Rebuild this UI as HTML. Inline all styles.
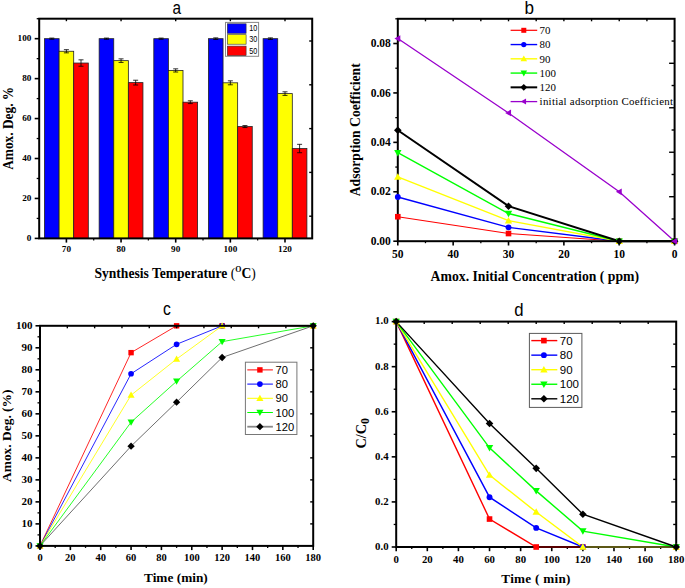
<!DOCTYPE html>
<html><head><meta charset="utf-8"><title>Figure</title>
<style>html,body{margin:0;padding:0;background:#fff;}svg{display:block;}</style></head>
<body><svg width="685" height="588" viewBox="0 0 685 588">
<rect width="685" height="588" fill="#fff"/>
<rect x="44.5" y="38.67" width="14.6" height="199.73" fill="#0000ff" stroke="#222" stroke-width="0.8"/>
<rect x="59.1" y="51.26" width="14.6" height="187.14" fill="#ffff00" stroke="#222" stroke-width="0.8"/>
<rect x="73.7" y="63.04" width="14.6" height="175.36" fill="#ff0000" stroke="#222" stroke-width="0.8"/>
<line x1="51.8" y1="38.07" x2="51.8" y2="39.27" stroke="#000" stroke-width="0.8"/>
<line x1="49.3" y1="38.07" x2="54.3" y2="38.07" stroke="#000" stroke-width="0.8"/>
<line x1="49.3" y1="39.27" x2="54.3" y2="39.27" stroke="#000" stroke-width="0.8"/>
<line x1="66.4" y1="49.66" x2="66.4" y2="52.85" stroke="#000" stroke-width="0.8"/>
<line x1="63.9" y1="49.66" x2="68.9" y2="49.66" stroke="#000" stroke-width="0.8"/>
<line x1="63.9" y1="52.85" x2="68.9" y2="52.85" stroke="#000" stroke-width="0.8"/>
<line x1="81" y1="59.84" x2="81" y2="66.24" stroke="#000" stroke-width="0.8"/>
<line x1="78.5" y1="59.84" x2="83.5" y2="59.84" stroke="#000" stroke-width="0.8"/>
<line x1="78.5" y1="66.24" x2="83.5" y2="66.24" stroke="#000" stroke-width="0.8"/>
<rect x="99.15" y="38.67" width="14.6" height="199.73" fill="#0000ff" stroke="#222" stroke-width="0.8"/>
<rect x="113.75" y="60.64" width="14.6" height="177.76" fill="#ffff00" stroke="#222" stroke-width="0.8"/>
<rect x="128.35" y="82.61" width="14.6" height="155.79" fill="#ff0000" stroke="#222" stroke-width="0.8"/>
<line x1="106.45" y1="38.07" x2="106.45" y2="39.27" stroke="#000" stroke-width="0.8"/>
<line x1="103.95" y1="38.07" x2="108.95" y2="38.07" stroke="#000" stroke-width="0.8"/>
<line x1="103.95" y1="39.27" x2="108.95" y2="39.27" stroke="#000" stroke-width="0.8"/>
<line x1="121.05" y1="58.85" x2="121.05" y2="62.44" stroke="#000" stroke-width="0.8"/>
<line x1="118.55" y1="58.85" x2="123.55" y2="58.85" stroke="#000" stroke-width="0.8"/>
<line x1="118.55" y1="62.44" x2="123.55" y2="62.44" stroke="#000" stroke-width="0.8"/>
<line x1="135.65" y1="80.22" x2="135.65" y2="85.01" stroke="#000" stroke-width="0.8"/>
<line x1="133.15" y1="80.22" x2="138.15" y2="80.22" stroke="#000" stroke-width="0.8"/>
<line x1="133.15" y1="85.01" x2="138.15" y2="85.01" stroke="#000" stroke-width="0.8"/>
<rect x="153.8" y="38.67" width="14.6" height="199.73" fill="#0000ff" stroke="#222" stroke-width="0.8"/>
<rect x="168.4" y="70.43" width="14.6" height="167.97" fill="#ffff00" stroke="#222" stroke-width="0.8"/>
<rect x="183" y="102.19" width="14.6" height="136.21" fill="#ff0000" stroke="#222" stroke-width="0.8"/>
<line x1="161.1" y1="38.07" x2="161.1" y2="39.27" stroke="#000" stroke-width="0.8"/>
<line x1="158.6" y1="38.07" x2="163.6" y2="38.07" stroke="#000" stroke-width="0.8"/>
<line x1="158.6" y1="39.27" x2="163.6" y2="39.27" stroke="#000" stroke-width="0.8"/>
<line x1="175.7" y1="68.83" x2="175.7" y2="72.03" stroke="#000" stroke-width="0.8"/>
<line x1="173.2" y1="68.83" x2="178.2" y2="68.83" stroke="#000" stroke-width="0.8"/>
<line x1="173.2" y1="72.03" x2="178.2" y2="72.03" stroke="#000" stroke-width="0.8"/>
<line x1="190.3" y1="100.79" x2="190.3" y2="103.58" stroke="#000" stroke-width="0.8"/>
<line x1="187.8" y1="100.79" x2="192.8" y2="100.79" stroke="#000" stroke-width="0.8"/>
<line x1="187.8" y1="103.58" x2="192.8" y2="103.58" stroke="#000" stroke-width="0.8"/>
<rect x="208.45" y="38.67" width="14.6" height="199.73" fill="#0000ff" stroke="#222" stroke-width="0.8"/>
<rect x="223.05" y="82.81" width="14.6" height="155.59" fill="#ffff00" stroke="#222" stroke-width="0.8"/>
<rect x="237.65" y="126.55" width="14.6" height="111.85" fill="#ff0000" stroke="#222" stroke-width="0.8"/>
<line x1="215.75" y1="37.87" x2="215.75" y2="39.47" stroke="#000" stroke-width="0.8"/>
<line x1="213.25" y1="37.87" x2="218.25" y2="37.87" stroke="#000" stroke-width="0.8"/>
<line x1="213.25" y1="39.47" x2="218.25" y2="39.47" stroke="#000" stroke-width="0.8"/>
<line x1="230.35" y1="80.82" x2="230.35" y2="84.81" stroke="#000" stroke-width="0.8"/>
<line x1="227.85" y1="80.82" x2="232.85" y2="80.82" stroke="#000" stroke-width="0.8"/>
<line x1="227.85" y1="84.81" x2="232.85" y2="84.81" stroke="#000" stroke-width="0.8"/>
<line x1="244.95" y1="125.55" x2="244.95" y2="127.55" stroke="#000" stroke-width="0.8"/>
<line x1="242.45" y1="125.55" x2="247.45" y2="125.55" stroke="#000" stroke-width="0.8"/>
<line x1="242.45" y1="127.55" x2="247.45" y2="127.55" stroke="#000" stroke-width="0.8"/>
<rect x="263.1" y="38.67" width="14.6" height="199.73" fill="#0000ff" stroke="#222" stroke-width="0.8"/>
<rect x="277.7" y="93.6" width="14.6" height="144.8" fill="#ffff00" stroke="#222" stroke-width="0.8"/>
<rect x="292.3" y="148.52" width="14.6" height="89.88" fill="#ff0000" stroke="#222" stroke-width="0.8"/>
<line x1="270.4" y1="37.87" x2="270.4" y2="39.47" stroke="#000" stroke-width="0.8"/>
<line x1="267.9" y1="37.87" x2="272.9" y2="37.87" stroke="#000" stroke-width="0.8"/>
<line x1="267.9" y1="39.47" x2="272.9" y2="39.47" stroke="#000" stroke-width="0.8"/>
<line x1="285" y1="91.8" x2="285" y2="95.4" stroke="#000" stroke-width="0.8"/>
<line x1="282.5" y1="91.8" x2="287.5" y2="91.8" stroke="#000" stroke-width="0.8"/>
<line x1="282.5" y1="95.4" x2="287.5" y2="95.4" stroke="#000" stroke-width="0.8"/>
<line x1="299.6" y1="144.33" x2="299.6" y2="152.72" stroke="#000" stroke-width="0.8"/>
<line x1="297.1" y1="144.33" x2="302.1" y2="144.33" stroke="#000" stroke-width="0.8"/>
<line x1="297.1" y1="152.72" x2="302.1" y2="152.72" stroke="#000" stroke-width="0.8"/>
<line x1="34.7" y1="238.4" x2="39.2" y2="238.4" stroke="#000" stroke-width="1.6"/>
<text x="31.4" y="241.1" font-size="9.2" text-anchor="end" font-weight="bold" style="font-family:&quot;Liberation Serif&quot;,serif">0</text>
<line x1="34.7" y1="198.45" x2="39.2" y2="198.45" stroke="#000" stroke-width="1.6"/>
<text x="31.4" y="201.15" font-size="9.2" text-anchor="end" font-weight="bold" style="font-family:&quot;Liberation Serif&quot;,serif">20</text>
<line x1="34.7" y1="158.51" x2="39.2" y2="158.51" stroke="#000" stroke-width="1.6"/>
<text x="31.4" y="161.21" font-size="9.2" text-anchor="end" font-weight="bold" style="font-family:&quot;Liberation Serif&quot;,serif">40</text>
<line x1="34.7" y1="118.56" x2="39.2" y2="118.56" stroke="#000" stroke-width="1.6"/>
<text x="31.4" y="121.26" font-size="9.2" text-anchor="end" font-weight="bold" style="font-family:&quot;Liberation Serif&quot;,serif">60</text>
<line x1="34.7" y1="78.62" x2="39.2" y2="78.62" stroke="#000" stroke-width="1.6"/>
<text x="31.4" y="81.32" font-size="9.2" text-anchor="end" font-weight="bold" style="font-family:&quot;Liberation Serif&quot;,serif">80</text>
<line x1="34.7" y1="38.67" x2="39.2" y2="38.67" stroke="#000" stroke-width="1.6"/>
<text x="31.4" y="41.37" font-size="9.2" text-anchor="end" font-weight="bold" style="font-family:&quot;Liberation Serif&quot;,serif">100</text>
<line x1="36.7" y1="218.43" x2="39.2" y2="218.43" stroke="#000" stroke-width="1.3"/>
<line x1="36.7" y1="178.48" x2="39.2" y2="178.48" stroke="#000" stroke-width="1.3"/>
<line x1="36.7" y1="138.54" x2="39.2" y2="138.54" stroke="#000" stroke-width="1.3"/>
<line x1="36.7" y1="98.59" x2="39.2" y2="98.59" stroke="#000" stroke-width="1.3"/>
<line x1="36.7" y1="58.65" x2="39.2" y2="58.65" stroke="#000" stroke-width="1.3"/>
<line x1="36.7" y1="18.7" x2="39.2" y2="18.7" stroke="#000" stroke-width="1.3"/>
<line x1="66.4" y1="238.4" x2="66.4" y2="242.6" stroke="#000" stroke-width="1.6"/>
<line x1="66.4" y1="18.7" x2="66.4" y2="21.2" stroke="#000" stroke-width="1.4"/>
<text x="66.4" y="252.2" font-size="9.2" text-anchor="middle" font-weight="bold" style="font-family:&quot;Liberation Serif&quot;,serif">70</text>
<line x1="121.05" y1="238.4" x2="121.05" y2="242.6" stroke="#000" stroke-width="1.6"/>
<line x1="121.05" y1="18.7" x2="121.05" y2="21.2" stroke="#000" stroke-width="1.4"/>
<text x="121.05" y="252.2" font-size="9.2" text-anchor="middle" font-weight="bold" style="font-family:&quot;Liberation Serif&quot;,serif">80</text>
<line x1="175.7" y1="238.4" x2="175.7" y2="242.6" stroke="#000" stroke-width="1.6"/>
<line x1="175.7" y1="18.7" x2="175.7" y2="21.2" stroke="#000" stroke-width="1.4"/>
<text x="175.7" y="252.2" font-size="9.2" text-anchor="middle" font-weight="bold" style="font-family:&quot;Liberation Serif&quot;,serif">90</text>
<line x1="230.35" y1="238.4" x2="230.35" y2="242.6" stroke="#000" stroke-width="1.6"/>
<line x1="230.35" y1="18.7" x2="230.35" y2="21.2" stroke="#000" stroke-width="1.4"/>
<text x="230.35" y="252.2" font-size="9.2" text-anchor="middle" font-weight="bold" style="font-family:&quot;Liberation Serif&quot;,serif">100</text>
<line x1="285" y1="238.4" x2="285" y2="242.6" stroke="#000" stroke-width="1.6"/>
<line x1="285" y1="18.7" x2="285" y2="21.2" stroke="#000" stroke-width="1.4"/>
<text x="285" y="252.2" font-size="9.2" text-anchor="middle" font-weight="bold" style="font-family:&quot;Liberation Serif&quot;,serif">120</text>
<line x1="93.7" y1="238.4" x2="93.7" y2="240.4" stroke="#000" stroke-width="1.2"/>
<line x1="148.35" y1="238.4" x2="148.35" y2="240.4" stroke="#000" stroke-width="1.2"/>
<line x1="203" y1="238.4" x2="203" y2="240.4" stroke="#000" stroke-width="1.2"/>
<line x1="257.65" y1="238.4" x2="257.65" y2="240.4" stroke="#000" stroke-width="1.2"/>
<line x1="309.2" y1="41" x2="312.2" y2="41" stroke="#000" stroke-width="1.4"/>
<line x1="309.2" y1="84.8" x2="312.2" y2="84.8" stroke="#000" stroke-width="1.4"/>
<line x1="309.2" y1="128.6" x2="312.2" y2="128.6" stroke="#000" stroke-width="1.4"/>
<line x1="309.2" y1="172.4" x2="312.2" y2="172.4" stroke="#000" stroke-width="1.4"/>
<line x1="309.2" y1="216.2" x2="312.2" y2="216.2" stroke="#000" stroke-width="1.4"/>
<rect x="39.2" y="18.7" width="273" height="219.7" fill="none" stroke="#000" stroke-width="2"/>
<rect x="225.5" y="22.4" width="33.1" height="33.9" fill="#fff" stroke="#888" stroke-width="1"/>
<rect x="227.3" y="23.8" width="18.8" height="9.5" fill="#0000ff" stroke="#333" stroke-width="0.6"/>
<text transform="translate(249.3,31.3) scale(0.78,1)" font-size="9.3" style="font-family:&quot;Liberation Sans&quot;,sans-serif">10</text>
<rect x="227.3" y="34.7" width="18.8" height="9.5" fill="#ffff00" stroke="#333" stroke-width="0.6"/>
<text transform="translate(249.3,42.2) scale(0.78,1)" font-size="9.3" style="font-family:&quot;Liberation Sans&quot;,sans-serif">30</text>
<rect x="227.3" y="46.1" width="18.8" height="9.5" fill="#ff0000" stroke="#333" stroke-width="0.6"/>
<text transform="translate(249.3,53.6) scale(0.78,1)" font-size="9.3" style="font-family:&quot;Liberation Sans&quot;,sans-serif">50</text>
<text transform="translate(176.8,13.8) scale(0.84,1)" font-size="18.3" text-anchor="middle" style="font-family:&quot;Liberation Sans&quot;,sans-serif">a</text>
<text transform="translate(12.8,169.8) rotate(-90)" x="0" y="0" font-size="14.5" font-weight="bold" textLength="83" lengthAdjust="spacingAndGlyphs" style="font-family:&quot;Liberation Serif&quot;,serif">Amox. Deg. %</text>
<text x="94.4" y="277.6" font-size="14.3" font-weight="bold" textLength="161.4" lengthAdjust="spacingAndGlyphs" style="font-family:&quot;Liberation Serif&quot;,serif">Synthesis Temperature <tspan font-weight="normal">(</tspan><tspan font-size="8.3" dy="-6">O</tspan><tspan dy="6">C</tspan><tspan font-weight="normal">)</tspan></text>
<line x1="393.3" y1="241.2" x2="397.8" y2="241.2" stroke="#000" stroke-width="1.6"/>
<text x="390.8" y="244.85" font-size="11.5" text-anchor="end" font-weight="bold" style="font-family:&quot;Liberation Serif&quot;,serif">0.00</text>
<line x1="393.3" y1="191.78" x2="397.8" y2="191.78" stroke="#000" stroke-width="1.6"/>
<text x="390.8" y="195.43" font-size="11.5" text-anchor="end" font-weight="bold" style="font-family:&quot;Liberation Serif&quot;,serif">0.02</text>
<line x1="393.3" y1="142.36" x2="397.8" y2="142.36" stroke="#000" stroke-width="1.6"/>
<text x="390.8" y="146.01" font-size="11.5" text-anchor="end" font-weight="bold" style="font-family:&quot;Liberation Serif&quot;,serif">0.04</text>
<line x1="393.3" y1="92.93" x2="397.8" y2="92.93" stroke="#000" stroke-width="1.6"/>
<text x="390.8" y="96.58" font-size="11.5" text-anchor="end" font-weight="bold" style="font-family:&quot;Liberation Serif&quot;,serif">0.06</text>
<line x1="393.3" y1="43.51" x2="397.8" y2="43.51" stroke="#000" stroke-width="1.6"/>
<text x="390.8" y="47.16" font-size="11.5" text-anchor="end" font-weight="bold" style="font-family:&quot;Liberation Serif&quot;,serif">0.08</text>
<line x1="395.3" y1="216.49" x2="397.8" y2="216.49" stroke="#000" stroke-width="1.3"/>
<line x1="395.3" y1="167.07" x2="397.8" y2="167.07" stroke="#000" stroke-width="1.3"/>
<line x1="395.3" y1="117.64" x2="397.8" y2="117.64" stroke="#000" stroke-width="1.3"/>
<line x1="395.3" y1="68.22" x2="397.8" y2="68.22" stroke="#000" stroke-width="1.3"/>
<line x1="395.3" y1="18.8" x2="397.8" y2="18.8" stroke="#000" stroke-width="1.3"/>
<line x1="674.6" y1="241.2" x2="674.6" y2="245.5" stroke="#000" stroke-width="1.6"/>
<text x="674.6" y="257.8" font-size="11.5" text-anchor="middle" font-weight="bold" style="font-family:&quot;Liberation Serif&quot;,serif">0</text>
<line x1="619.24" y1="241.2" x2="619.24" y2="245.5" stroke="#000" stroke-width="1.6"/>
<text x="619.24" y="257.8" font-size="11.5" text-anchor="middle" font-weight="bold" style="font-family:&quot;Liberation Serif&quot;,serif">10</text>
<line x1="563.88" y1="241.2" x2="563.88" y2="245.5" stroke="#000" stroke-width="1.6"/>
<text x="563.88" y="257.8" font-size="11.5" text-anchor="middle" font-weight="bold" style="font-family:&quot;Liberation Serif&quot;,serif">20</text>
<line x1="508.52" y1="241.2" x2="508.52" y2="245.5" stroke="#000" stroke-width="1.6"/>
<text x="508.52" y="257.8" font-size="11.5" text-anchor="middle" font-weight="bold" style="font-family:&quot;Liberation Serif&quot;,serif">30</text>
<line x1="453.16" y1="241.2" x2="453.16" y2="245.5" stroke="#000" stroke-width="1.6"/>
<text x="453.16" y="257.8" font-size="11.5" text-anchor="middle" font-weight="bold" style="font-family:&quot;Liberation Serif&quot;,serif">40</text>
<line x1="397.8" y1="241.2" x2="397.8" y2="245.5" stroke="#000" stroke-width="1.6"/>
<text x="397.8" y="257.8" font-size="11.5" text-anchor="middle" font-weight="bold" style="font-family:&quot;Liberation Serif&quot;,serif">50</text>
<line x1="646.92" y1="241.2" x2="646.92" y2="243.2" stroke="#000" stroke-width="1.3"/>
<line x1="591.56" y1="241.2" x2="591.56" y2="243.2" stroke="#000" stroke-width="1.3"/>
<line x1="536.2" y1="241.2" x2="536.2" y2="243.2" stroke="#000" stroke-width="1.3"/>
<line x1="480.84" y1="241.2" x2="480.84" y2="243.2" stroke="#000" stroke-width="1.3"/>
<line x1="425.48" y1="241.2" x2="425.48" y2="243.2" stroke="#000" stroke-width="1.3"/>
<line x1="646.92" y1="18.8" x2="646.92" y2="21.3" stroke="#000" stroke-width="1.4"/>
<line x1="619.24" y1="18.8" x2="619.24" y2="21.3" stroke="#000" stroke-width="1.4"/>
<line x1="591.56" y1="18.8" x2="591.56" y2="21.3" stroke="#000" stroke-width="1.4"/>
<line x1="563.88" y1="18.8" x2="563.88" y2="21.3" stroke="#000" stroke-width="1.4"/>
<line x1="536.2" y1="18.8" x2="536.2" y2="21.3" stroke="#000" stroke-width="1.4"/>
<line x1="508.52" y1="18.8" x2="508.52" y2="21.3" stroke="#000" stroke-width="1.4"/>
<line x1="480.84" y1="18.8" x2="480.84" y2="21.3" stroke="#000" stroke-width="1.4"/>
<line x1="453.16" y1="18.8" x2="453.16" y2="21.3" stroke="#000" stroke-width="1.4"/>
<line x1="425.48" y1="18.8" x2="425.48" y2="21.3" stroke="#000" stroke-width="1.4"/>
<line x1="671.6" y1="218.96" x2="674.6" y2="218.96" stroke="#000" stroke-width="1.4"/>
<line x1="669.1" y1="196.72" x2="674.6" y2="196.72" stroke="#000" stroke-width="1.4"/>
<line x1="671.6" y1="174.48" x2="674.6" y2="174.48" stroke="#000" stroke-width="1.4"/>
<line x1="669.1" y1="152.24" x2="674.6" y2="152.24" stroke="#000" stroke-width="1.4"/>
<line x1="671.6" y1="130" x2="674.6" y2="130" stroke="#000" stroke-width="1.4"/>
<line x1="669.1" y1="107.76" x2="674.6" y2="107.76" stroke="#000" stroke-width="1.4"/>
<line x1="671.6" y1="85.52" x2="674.6" y2="85.52" stroke="#000" stroke-width="1.4"/>
<line x1="669.1" y1="63.28" x2="674.6" y2="63.28" stroke="#000" stroke-width="1.4"/>
<line x1="671.6" y1="41.04" x2="674.6" y2="41.04" stroke="#000" stroke-width="1.4"/>
<polyline points="397.8,216.74 508.52,233.54 619.24,241.2 674.6,241.2" fill="none" stroke="#ff0000" stroke-width="1.15"/>
<polyline points="397.8,196.97 508.52,227.36 619.24,241.2 674.6,241.2" fill="none" stroke="#0000ff" stroke-width="1.4"/>
<polyline points="397.8,176.95 508.52,220.69 619.24,241.2 674.6,241.2" fill="none" stroke="#ffff00" stroke-width="1.4"/>
<polyline points="397.8,152.73 508.52,213.52 619.24,241.2 674.6,241.2" fill="none" stroke="#00ff00" stroke-width="1.4"/>
<polyline points="397.8,130.25 508.52,206.18 619.24,241.2 674.6,241.2" fill="none" stroke="#000000" stroke-width="2.0"/>
<polyline points="397.8,38.57 508.52,112.95 619.24,191.78 674.6,241.2" fill="none" stroke="#9900cc" stroke-width="1.3"/>
<rect x="397.8" y="18.8" width="276.8" height="222.4" fill="none" stroke="#000" stroke-width="2"/>
<rect x="395" y="213.94" width="5.6" height="5.6" fill="#ff0000"/>
<rect x="505.72" y="230.74" width="5.6" height="5.6" fill="#ff0000"/>
<rect x="616.44" y="238.4" width="5.6" height="5.6" fill="#ff0000"/>
<rect x="671.8" y="238.4" width="5.6" height="5.6" fill="#ff0000"/>
<circle cx="397.8" cy="196.97" r="2.94" fill="#0000ff"/>
<circle cx="508.52" cy="227.36" r="2.94" fill="#0000ff"/>
<circle cx="619.24" cy="241.2" r="2.94" fill="#0000ff"/>
<circle cx="674.6" cy="241.2" r="2.94" fill="#0000ff"/>
<polygon points="397.8,173.26 401.5,179.72 394.1,179.72" fill="#ffff00"/>
<polygon points="508.52,216.99 512.22,223.46 504.82,223.46" fill="#ffff00"/>
<polygon points="619.24,237.5 622.94,243.97 615.54,243.97" fill="#ffff00"/>
<polygon points="674.6,237.5 678.3,243.97 670.9,243.97" fill="#ffff00"/>
<polygon points="397.8,156.43 401.5,149.96 394.1,149.96" fill="#00ff00"/>
<polygon points="508.52,217.22 512.22,210.75 504.82,210.75" fill="#00ff00"/>
<polygon points="619.24,244.9 622.94,238.43 615.54,238.43" fill="#00ff00"/>
<polygon points="674.6,244.9 678.3,238.43 670.9,238.43" fill="#00ff00"/>
<polygon points="397.8,126.44 401.61,130.25 397.8,134.06 393.99,130.25" fill="#000000"/>
<polygon points="508.52,202.38 512.33,206.18 508.52,209.99 504.71,206.18" fill="#000000"/>
<polygon points="619.24,237.39 623.05,241.2 619.24,245.01 615.43,241.2" fill="#000000"/>
<polygon points="674.6,237.39 678.41,241.2 674.6,245.01 670.79,241.2" fill="#000000"/>
<polygon points="394.44,38.57 400.32,35.21 400.32,41.93" fill="#9900cc"/>
<polygon points="505.16,112.95 511.04,109.59 511.04,116.31" fill="#9900cc"/>
<polygon points="615.88,191.78 621.76,188.42 621.76,195.14" fill="#9900cc"/>
<polygon points="671.24,241.2 677.12,237.84 677.12,244.56" fill="#9900cc"/>
<line x1="510.6" y1="30.3" x2="537.2" y2="30.3" stroke="#ff0000" stroke-width="1.2"/>
<rect x="521.3" y="27.8" width="5" height="5" fill="#ff0000"/>
<text x="539.6" y="34.1" font-size="10.9" text-anchor="start" font-weight="normal" style="font-family:&quot;Liberation Serif&quot;,serif">70</text>
<line x1="510.6" y1="44.56" x2="537.2" y2="44.56" stroke="#0000ff" stroke-width="1.4"/>
<circle cx="523.8" cy="44.56" r="2.62" fill="#0000ff"/>
<text x="539.6" y="48.36" font-size="10.9" text-anchor="start" font-weight="normal" style="font-family:&quot;Liberation Serif&quot;,serif">80</text>
<line x1="510.6" y1="58.82" x2="537.2" y2="58.82" stroke="#ffff00" stroke-width="1.4"/>
<polygon points="523.8,55.52 527.1,61.3 520.5,61.3" fill="#ffff00"/>
<text x="539.6" y="62.62" font-size="10.9" text-anchor="start" font-weight="normal" style="font-family:&quot;Liberation Serif&quot;,serif">90</text>
<line x1="510.6" y1="73.08" x2="537.2" y2="73.08" stroke="#00ff00" stroke-width="1.4"/>
<polygon points="523.8,76.38 527.1,70.61 520.5,70.61" fill="#00ff00"/>
<text x="539.6" y="76.88" font-size="10.9" text-anchor="start" font-weight="normal" style="font-family:&quot;Liberation Serif&quot;,serif">100</text>
<line x1="510.6" y1="87.34" x2="537.2" y2="87.34" stroke="#000000" stroke-width="2.0"/>
<polygon points="523.8,83.94 527.2,87.34 523.8,90.74 520.4,87.34" fill="#000000"/>
<text x="539.6" y="91.14" font-size="10.9" text-anchor="start" font-weight="normal" style="font-family:&quot;Liberation Serif&quot;,serif">120</text>
<line x1="510.6" y1="101.6" x2="537.2" y2="101.6" stroke="#9900cc" stroke-width="1.3"/>
<polygon points="520.8,101.6 526.05,98.6 526.05,104.6" fill="#9900cc"/>
<text x="539.6" y="105.4" font-size="10.9" textLength="133.4" lengthAdjust="spacing" style="font-family:&quot;Liberation Serif&quot;,serif">initial adsorption Coefficient</text>
<text transform="translate(529.2,14) scale(0.95,1)" font-size="18" text-anchor="middle" style="font-family:&quot;Liberation Sans&quot;,sans-serif">b</text>
<text transform="translate(360.1,196.3) rotate(-90)" x="0" y="0" font-size="14.6" font-weight="bold" textLength="133" lengthAdjust="spacingAndGlyphs" style="font-family:&quot;Liberation Serif&quot;,serif">Adsorption Coefficient</text>
<text x="430.6" y="280.6" font-size="14.3" font-weight="bold" textLength="208.5" lengthAdjust="spacingAndGlyphs" style="font-family:&quot;Liberation Serif&quot;,serif">Amox. Initial Concentration ( ppm)</text>
<polyline points="40,545.9 131.07,352.65 176.6,325.8 222.13,325.8 313.2,325.8" fill="none" stroke="#ff0000" stroke-width="0.85"/>
<polyline points="40,545.9 131.07,373.78 176.6,344.29 222.13,325.8 313.2,325.8" fill="none" stroke="#0000ff" stroke-width="0.85"/>
<polyline points="40,545.9 131.07,395.13 176.6,359.04 222.13,325.8 313.2,325.8" fill="none" stroke="#ffff00" stroke-width="0.85"/>
<polyline points="40,545.9 131.07,422.2 176.6,381.27 222.13,341.65 313.2,325.8" fill="none" stroke="#00ff00" stroke-width="0.85"/>
<polyline points="40,545.9 131.07,446.19 176.6,402.17 222.13,357.49 313.2,325.8" fill="none" stroke="#555" stroke-width="0.85"/>
<rect x="37.3" y="543.2" width="5.4" height="5.4" fill="#ff0000"/>
<rect x="128.37" y="349.95" width="5.4" height="5.4" fill="#ff0000"/>
<rect x="173.9" y="323.1" width="5.4" height="5.4" fill="#ff0000"/>
<rect x="219.43" y="323.1" width="5.4" height="5.4" fill="#ff0000"/>
<rect x="310.5" y="323.1" width="5.4" height="5.4" fill="#ff0000"/>
<circle cx="40" cy="545.9" r="2.84" fill="#0000ff"/>
<circle cx="131.07" cy="373.78" r="2.84" fill="#0000ff"/>
<circle cx="176.6" cy="344.29" r="2.84" fill="#0000ff"/>
<circle cx="222.13" cy="325.8" r="2.84" fill="#0000ff"/>
<circle cx="313.2" cy="325.8" r="2.84" fill="#0000ff"/>
<polygon points="40,542.34 43.56,548.57 36.44,548.57" fill="#ffff00"/>
<polygon points="131.07,391.57 134.63,397.8 127.5,397.8" fill="#ffff00"/>
<polygon points="176.6,355.47 180.16,361.71 173.04,361.71" fill="#ffff00"/>
<polygon points="222.13,322.24 225.7,328.47 218.57,328.47" fill="#ffff00"/>
<polygon points="313.2,322.24 316.76,328.47 309.64,328.47" fill="#ffff00"/>
<polygon points="40,549.46 43.56,543.23 36.44,543.23" fill="#00ff00"/>
<polygon points="131.07,425.77 134.63,419.53 127.5,419.53" fill="#00ff00"/>
<polygon points="176.6,384.83 180.16,378.59 173.04,378.59" fill="#00ff00"/>
<polygon points="222.13,345.21 225.7,338.97 218.57,338.97" fill="#00ff00"/>
<polygon points="313.2,329.36 316.76,323.13 309.64,323.13" fill="#00ff00"/>
<polygon points="40,542.23 43.67,545.9 40,549.57 36.33,545.9" fill="#000000"/>
<polygon points="131.07,442.52 134.74,446.19 131.07,449.87 127.39,446.19" fill="#000000"/>
<polygon points="176.6,398.5 180.27,402.17 176.6,405.85 172.93,402.17" fill="#000000"/>
<polygon points="222.13,353.82 225.81,357.49 222.13,361.17 218.46,357.49" fill="#000000"/>
<polygon points="313.2,322.13 316.87,325.8 313.2,329.47 309.53,325.8" fill="#000000"/>
<line x1="35.5" y1="545.9" x2="40" y2="545.9" stroke="#000" stroke-width="1.6"/>
<text x="32.4" y="549" font-size="11" text-anchor="end" font-weight="bold" style="font-family:&quot;Liberation Serif&quot;,serif">0</text>
<line x1="35.5" y1="523.89" x2="40" y2="523.89" stroke="#000" stroke-width="1.6"/>
<text x="32.4" y="526.99" font-size="11" text-anchor="end" font-weight="bold" style="font-family:&quot;Liberation Serif&quot;,serif">10</text>
<line x1="35.5" y1="501.88" x2="40" y2="501.88" stroke="#000" stroke-width="1.6"/>
<text x="32.4" y="504.98" font-size="11" text-anchor="end" font-weight="bold" style="font-family:&quot;Liberation Serif&quot;,serif">20</text>
<line x1="35.5" y1="479.87" x2="40" y2="479.87" stroke="#000" stroke-width="1.6"/>
<text x="32.4" y="482.97" font-size="11" text-anchor="end" font-weight="bold" style="font-family:&quot;Liberation Serif&quot;,serif">30</text>
<line x1="35.5" y1="457.86" x2="40" y2="457.86" stroke="#000" stroke-width="1.6"/>
<text x="32.4" y="460.96" font-size="11" text-anchor="end" font-weight="bold" style="font-family:&quot;Liberation Serif&quot;,serif">40</text>
<line x1="35.5" y1="435.85" x2="40" y2="435.85" stroke="#000" stroke-width="1.6"/>
<text x="32.4" y="438.95" font-size="11" text-anchor="end" font-weight="bold" style="font-family:&quot;Liberation Serif&quot;,serif">50</text>
<line x1="35.5" y1="413.84" x2="40" y2="413.84" stroke="#000" stroke-width="1.6"/>
<text x="32.4" y="416.94" font-size="11" text-anchor="end" font-weight="bold" style="font-family:&quot;Liberation Serif&quot;,serif">60</text>
<line x1="35.5" y1="391.83" x2="40" y2="391.83" stroke="#000" stroke-width="1.6"/>
<text x="32.4" y="394.93" font-size="11" text-anchor="end" font-weight="bold" style="font-family:&quot;Liberation Serif&quot;,serif">70</text>
<line x1="35.5" y1="369.82" x2="40" y2="369.82" stroke="#000" stroke-width="1.6"/>
<text x="32.4" y="372.92" font-size="11" text-anchor="end" font-weight="bold" style="font-family:&quot;Liberation Serif&quot;,serif">80</text>
<line x1="35.5" y1="347.81" x2="40" y2="347.81" stroke="#000" stroke-width="1.6"/>
<text x="32.4" y="350.91" font-size="11" text-anchor="end" font-weight="bold" style="font-family:&quot;Liberation Serif&quot;,serif">90</text>
<line x1="35.5" y1="325.8" x2="40" y2="325.8" stroke="#000" stroke-width="1.6"/>
<text x="32.4" y="328.9" font-size="11" text-anchor="end" font-weight="bold" style="font-family:&quot;Liberation Serif&quot;,serif">100</text>
<line x1="37.5" y1="534.89" x2="40" y2="534.89" stroke="#000" stroke-width="1.3"/>
<line x1="37.5" y1="512.88" x2="40" y2="512.88" stroke="#000" stroke-width="1.3"/>
<line x1="37.5" y1="490.88" x2="40" y2="490.88" stroke="#000" stroke-width="1.3"/>
<line x1="37.5" y1="468.87" x2="40" y2="468.87" stroke="#000" stroke-width="1.3"/>
<line x1="37.5" y1="446.86" x2="40" y2="446.86" stroke="#000" stroke-width="1.3"/>
<line x1="37.5" y1="424.85" x2="40" y2="424.85" stroke="#000" stroke-width="1.3"/>
<line x1="37.5" y1="402.84" x2="40" y2="402.84" stroke="#000" stroke-width="1.3"/>
<line x1="37.5" y1="380.83" x2="40" y2="380.83" stroke="#000" stroke-width="1.3"/>
<line x1="37.5" y1="358.82" x2="40" y2="358.82" stroke="#000" stroke-width="1.3"/>
<line x1="37.5" y1="336.81" x2="40" y2="336.81" stroke="#000" stroke-width="1.3"/>
<line x1="40" y1="545.9" x2="40" y2="550.1" stroke="#000" stroke-width="1.6"/>
<text x="40" y="560.95" font-size="10.5" text-anchor="middle" font-weight="bold" style="font-family:&quot;Liberation Serif&quot;,serif">0</text>
<line x1="70.36" y1="545.9" x2="70.36" y2="550.1" stroke="#000" stroke-width="1.6"/>
<text x="70.36" y="560.95" font-size="10.5" text-anchor="middle" font-weight="bold" style="font-family:&quot;Liberation Serif&quot;,serif">20</text>
<line x1="100.71" y1="545.9" x2="100.71" y2="550.1" stroke="#000" stroke-width="1.6"/>
<text x="100.71" y="560.95" font-size="10.5" text-anchor="middle" font-weight="bold" style="font-family:&quot;Liberation Serif&quot;,serif">40</text>
<line x1="131.07" y1="545.9" x2="131.07" y2="550.1" stroke="#000" stroke-width="1.6"/>
<text x="131.07" y="560.95" font-size="10.5" text-anchor="middle" font-weight="bold" style="font-family:&quot;Liberation Serif&quot;,serif">60</text>
<line x1="161.42" y1="545.9" x2="161.42" y2="550.1" stroke="#000" stroke-width="1.6"/>
<text x="161.42" y="560.95" font-size="10.5" text-anchor="middle" font-weight="bold" style="font-family:&quot;Liberation Serif&quot;,serif">80</text>
<line x1="191.78" y1="545.9" x2="191.78" y2="550.1" stroke="#000" stroke-width="1.6"/>
<text x="191.78" y="560.95" font-size="10.5" text-anchor="middle" font-weight="bold" style="font-family:&quot;Liberation Serif&quot;,serif">100</text>
<line x1="222.13" y1="545.9" x2="222.13" y2="550.1" stroke="#000" stroke-width="1.6"/>
<text x="222.13" y="560.95" font-size="10.5" text-anchor="middle" font-weight="bold" style="font-family:&quot;Liberation Serif&quot;,serif">120</text>
<line x1="252.49" y1="545.9" x2="252.49" y2="550.1" stroke="#000" stroke-width="1.6"/>
<text x="252.49" y="560.95" font-size="10.5" text-anchor="middle" font-weight="bold" style="font-family:&quot;Liberation Serif&quot;,serif">140</text>
<line x1="282.84" y1="545.9" x2="282.84" y2="550.1" stroke="#000" stroke-width="1.6"/>
<text x="282.84" y="560.95" font-size="10.5" text-anchor="middle" font-weight="bold" style="font-family:&quot;Liberation Serif&quot;,serif">160</text>
<line x1="313.2" y1="545.9" x2="313.2" y2="550.1" stroke="#000" stroke-width="1.6"/>
<text x="313.2" y="560.95" font-size="10.5" text-anchor="middle" font-weight="bold" style="font-family:&quot;Liberation Serif&quot;,serif">180</text>
<line x1="55.18" y1="545.9" x2="55.18" y2="547.9" stroke="#000" stroke-width="1.3"/>
<line x1="85.53" y1="545.9" x2="85.53" y2="547.9" stroke="#000" stroke-width="1.3"/>
<line x1="115.89" y1="545.9" x2="115.89" y2="547.9" stroke="#000" stroke-width="1.3"/>
<line x1="146.24" y1="545.9" x2="146.24" y2="547.9" stroke="#000" stroke-width="1.3"/>
<line x1="176.6" y1="545.9" x2="176.6" y2="547.9" stroke="#000" stroke-width="1.3"/>
<line x1="206.96" y1="545.9" x2="206.96" y2="547.9" stroke="#000" stroke-width="1.3"/>
<line x1="237.31" y1="545.9" x2="237.31" y2="547.9" stroke="#000" stroke-width="1.3"/>
<line x1="267.67" y1="545.9" x2="267.67" y2="547.9" stroke="#000" stroke-width="1.3"/>
<line x1="298.02" y1="545.9" x2="298.02" y2="547.9" stroke="#000" stroke-width="1.3"/>
<line x1="67.32" y1="325.8" x2="67.32" y2="328.3" stroke="#000" stroke-width="1.4"/>
<line x1="310.2" y1="523.89" x2="313.2" y2="523.89" stroke="#000" stroke-width="1.4"/>
<line x1="94.64" y1="325.8" x2="94.64" y2="328.3" stroke="#000" stroke-width="1.4"/>
<line x1="310.2" y1="501.88" x2="313.2" y2="501.88" stroke="#000" stroke-width="1.4"/>
<line x1="121.96" y1="325.8" x2="121.96" y2="328.3" stroke="#000" stroke-width="1.4"/>
<line x1="310.2" y1="479.87" x2="313.2" y2="479.87" stroke="#000" stroke-width="1.4"/>
<line x1="149.28" y1="325.8" x2="149.28" y2="328.3" stroke="#000" stroke-width="1.4"/>
<line x1="310.2" y1="457.86" x2="313.2" y2="457.86" stroke="#000" stroke-width="1.4"/>
<line x1="176.6" y1="325.8" x2="176.6" y2="328.3" stroke="#000" stroke-width="1.4"/>
<line x1="310.2" y1="435.85" x2="313.2" y2="435.85" stroke="#000" stroke-width="1.4"/>
<line x1="203.92" y1="325.8" x2="203.92" y2="328.3" stroke="#000" stroke-width="1.4"/>
<line x1="310.2" y1="413.84" x2="313.2" y2="413.84" stroke="#000" stroke-width="1.4"/>
<line x1="231.24" y1="325.8" x2="231.24" y2="328.3" stroke="#000" stroke-width="1.4"/>
<line x1="310.2" y1="391.83" x2="313.2" y2="391.83" stroke="#000" stroke-width="1.4"/>
<line x1="258.56" y1="325.8" x2="258.56" y2="328.3" stroke="#000" stroke-width="1.4"/>
<line x1="310.2" y1="369.82" x2="313.2" y2="369.82" stroke="#000" stroke-width="1.4"/>
<line x1="285.88" y1="325.8" x2="285.88" y2="328.3" stroke="#000" stroke-width="1.4"/>
<line x1="310.2" y1="347.81" x2="313.2" y2="347.81" stroke="#000" stroke-width="1.4"/>
<rect x="40" y="325.8" width="273.2" height="220.1" fill="none" stroke="#000" stroke-width="2"/>
<rect x="245.4" y="362.2" width="51.5" height="72.3" fill="#fff" stroke="#777" stroke-width="1"/>
<line x1="247.3" y1="369.9" x2="272.9" y2="369.9" stroke="#ff0000" stroke-width="1"/>
<rect x="257.2" y="367.2" width="5.4" height="5.4" fill="#ff0000"/>
<text x="275.6" y="373.9" font-size="11.2" text-anchor="start" font-weight="normal" style="font-family:&quot;Liberation Sans&quot;,sans-serif">70</text>
<line x1="247.3" y1="384.1" x2="272.9" y2="384.1" stroke="#0000ff" stroke-width="1"/>
<circle cx="259.9" cy="384.1" r="2.84" fill="#0000ff"/>
<text x="275.6" y="388.1" font-size="11.2" text-anchor="start" font-weight="normal" style="font-family:&quot;Liberation Sans&quot;,sans-serif">80</text>
<line x1="247.3" y1="398.3" x2="272.9" y2="398.3" stroke="#ffff00" stroke-width="1"/>
<polygon points="259.9,394.74 263.46,400.97 256.34,400.97" fill="#ffff00"/>
<text x="275.6" y="402.3" font-size="11.2" text-anchor="start" font-weight="normal" style="font-family:&quot;Liberation Sans&quot;,sans-serif">90</text>
<line x1="247.3" y1="412.5" x2="272.9" y2="412.5" stroke="#00ff00" stroke-width="1"/>
<polygon points="259.9,416.06 263.46,409.83 256.34,409.83" fill="#00ff00"/>
<text x="275.6" y="416.5" font-size="11.2" text-anchor="start" font-weight="normal" style="font-family:&quot;Liberation Sans&quot;,sans-serif">100</text>
<line x1="247.3" y1="426.7" x2="272.9" y2="426.7" stroke="#888" stroke-width="1.8"/>
<polygon points="259.9,423.03 263.57,426.7 259.9,430.37 256.23,426.7" fill="#000000"/>
<text x="275.6" y="430.7" font-size="11.2" text-anchor="start" font-weight="normal" style="font-family:&quot;Liberation Sans&quot;,sans-serif">120</text>
<text transform="translate(167,315.2) scale(0.87,1)" font-size="18" text-anchor="middle" style="font-family:&quot;Liberation Sans&quot;,sans-serif">c</text>
<text transform="translate(11.2,482) rotate(-90)" x="0" y="0" font-size="13.5" font-weight="bold" textLength="92.5" lengthAdjust="spacingAndGlyphs" style="font-family:&quot;Liberation Serif&quot;,serif">Amox. Deg. (%)</text>
<text x="144" y="581.6" font-size="13.3" font-weight="bold" textLength="63.8" lengthAdjust="spacingAndGlyphs" style="font-family:&quot;Liberation Serif&quot;,serif">Time (min)</text>
<line x1="391.7" y1="547" x2="396.2" y2="547" stroke="#000" stroke-width="1.6"/>
<text x="388.6" y="549.85" font-size="10.8" text-anchor="end" font-weight="bold" style="font-family:&quot;Liberation Serif&quot;,serif">0.0</text>
<line x1="391.7" y1="501.92" x2="396.2" y2="501.92" stroke="#000" stroke-width="1.6"/>
<text x="388.6" y="504.77" font-size="10.8" text-anchor="end" font-weight="bold" style="font-family:&quot;Liberation Serif&quot;,serif">0.2</text>
<line x1="391.7" y1="456.84" x2="396.2" y2="456.84" stroke="#000" stroke-width="1.6"/>
<text x="388.6" y="459.69" font-size="10.8" text-anchor="end" font-weight="bold" style="font-family:&quot;Liberation Serif&quot;,serif">0.4</text>
<line x1="391.7" y1="411.76" x2="396.2" y2="411.76" stroke="#000" stroke-width="1.6"/>
<text x="388.6" y="414.61" font-size="10.8" text-anchor="end" font-weight="bold" style="font-family:&quot;Liberation Serif&quot;,serif">0.6</text>
<line x1="391.7" y1="366.68" x2="396.2" y2="366.68" stroke="#000" stroke-width="1.6"/>
<text x="388.6" y="369.53" font-size="10.8" text-anchor="end" font-weight="bold" style="font-family:&quot;Liberation Serif&quot;,serif">0.8</text>
<line x1="391.7" y1="321.6" x2="396.2" y2="321.6" stroke="#000" stroke-width="1.6"/>
<text x="388.6" y="324.45" font-size="10.8" text-anchor="end" font-weight="bold" style="font-family:&quot;Liberation Serif&quot;,serif">1.0</text>
<line x1="393.7" y1="524.46" x2="396.2" y2="524.46" stroke="#000" stroke-width="1.3"/>
<line x1="393.7" y1="479.38" x2="396.2" y2="479.38" stroke="#000" stroke-width="1.3"/>
<line x1="393.7" y1="434.3" x2="396.2" y2="434.3" stroke="#000" stroke-width="1.3"/>
<line x1="393.7" y1="389.22" x2="396.2" y2="389.22" stroke="#000" stroke-width="1.3"/>
<line x1="393.7" y1="344.14" x2="396.2" y2="344.14" stroke="#000" stroke-width="1.3"/>
<line x1="396.2" y1="547" x2="396.2" y2="551.2" stroke="#000" stroke-width="1.6"/>
<text x="396.2" y="562.65" font-size="10.8" text-anchor="middle" font-weight="bold" style="font-family:&quot;Liberation Serif&quot;,serif">0</text>
<line x1="427.31" y1="547" x2="427.31" y2="551.2" stroke="#000" stroke-width="1.6"/>
<text x="427.31" y="562.65" font-size="10.8" text-anchor="middle" font-weight="bold" style="font-family:&quot;Liberation Serif&quot;,serif">20</text>
<line x1="458.42" y1="547" x2="458.42" y2="551.2" stroke="#000" stroke-width="1.6"/>
<text x="458.42" y="562.65" font-size="10.8" text-anchor="middle" font-weight="bold" style="font-family:&quot;Liberation Serif&quot;,serif">40</text>
<line x1="489.53" y1="547" x2="489.53" y2="551.2" stroke="#000" stroke-width="1.6"/>
<text x="489.53" y="562.65" font-size="10.8" text-anchor="middle" font-weight="bold" style="font-family:&quot;Liberation Serif&quot;,serif">60</text>
<line x1="520.64" y1="547" x2="520.64" y2="551.2" stroke="#000" stroke-width="1.6"/>
<text x="520.64" y="562.65" font-size="10.8" text-anchor="middle" font-weight="bold" style="font-family:&quot;Liberation Serif&quot;,serif">80</text>
<line x1="551.76" y1="547" x2="551.76" y2="551.2" stroke="#000" stroke-width="1.6"/>
<text x="551.76" y="562.65" font-size="10.8" text-anchor="middle" font-weight="bold" style="font-family:&quot;Liberation Serif&quot;,serif">100</text>
<line x1="582.87" y1="547" x2="582.87" y2="551.2" stroke="#000" stroke-width="1.6"/>
<text x="582.87" y="562.65" font-size="10.8" text-anchor="middle" font-weight="bold" style="font-family:&quot;Liberation Serif&quot;,serif">120</text>
<line x1="613.98" y1="547" x2="613.98" y2="551.2" stroke="#000" stroke-width="1.6"/>
<text x="613.98" y="562.65" font-size="10.8" text-anchor="middle" font-weight="bold" style="font-family:&quot;Liberation Serif&quot;,serif">140</text>
<line x1="645.09" y1="547" x2="645.09" y2="551.2" stroke="#000" stroke-width="1.6"/>
<text x="645.09" y="562.65" font-size="10.8" text-anchor="middle" font-weight="bold" style="font-family:&quot;Liberation Serif&quot;,serif">160</text>
<line x1="676.2" y1="547" x2="676.2" y2="551.2" stroke="#000" stroke-width="1.6"/>
<text x="676.2" y="562.65" font-size="10.8" text-anchor="middle" font-weight="bold" style="font-family:&quot;Liberation Serif&quot;,serif">180</text>
<line x1="411.76" y1="547" x2="411.76" y2="549" stroke="#000" stroke-width="1.3"/>
<line x1="442.87" y1="547" x2="442.87" y2="549" stroke="#000" stroke-width="1.3"/>
<line x1="473.98" y1="547" x2="473.98" y2="549" stroke="#000" stroke-width="1.3"/>
<line x1="505.09" y1="547" x2="505.09" y2="549" stroke="#000" stroke-width="1.3"/>
<line x1="536.2" y1="547" x2="536.2" y2="549" stroke="#000" stroke-width="1.3"/>
<line x1="567.31" y1="547" x2="567.31" y2="549" stroke="#000" stroke-width="1.3"/>
<line x1="598.42" y1="547" x2="598.42" y2="549" stroke="#000" stroke-width="1.3"/>
<line x1="629.53" y1="547" x2="629.53" y2="549" stroke="#000" stroke-width="1.3"/>
<line x1="660.64" y1="547" x2="660.64" y2="549" stroke="#000" stroke-width="1.3"/>
<line x1="424.2" y1="321.6" x2="424.2" y2="324.1" stroke="#000" stroke-width="1.4"/>
<line x1="673.2" y1="524.46" x2="676.2" y2="524.46" stroke="#000" stroke-width="1.4"/>
<line x1="452.2" y1="321.6" x2="452.2" y2="324.1" stroke="#000" stroke-width="1.4"/>
<line x1="671.2" y1="501.92" x2="676.2" y2="501.92" stroke="#000" stroke-width="1.4"/>
<line x1="480.2" y1="321.6" x2="480.2" y2="324.1" stroke="#000" stroke-width="1.4"/>
<line x1="673.2" y1="479.38" x2="676.2" y2="479.38" stroke="#000" stroke-width="1.4"/>
<line x1="508.2" y1="321.6" x2="508.2" y2="324.1" stroke="#000" stroke-width="1.4"/>
<line x1="671.2" y1="456.84" x2="676.2" y2="456.84" stroke="#000" stroke-width="1.4"/>
<line x1="536.2" y1="321.6" x2="536.2" y2="324.1" stroke="#000" stroke-width="1.4"/>
<line x1="673.2" y1="434.3" x2="676.2" y2="434.3" stroke="#000" stroke-width="1.4"/>
<line x1="564.2" y1="321.6" x2="564.2" y2="324.1" stroke="#000" stroke-width="1.4"/>
<line x1="671.2" y1="411.76" x2="676.2" y2="411.76" stroke="#000" stroke-width="1.4"/>
<line x1="592.2" y1="321.6" x2="592.2" y2="324.1" stroke="#000" stroke-width="1.4"/>
<line x1="673.2" y1="389.22" x2="676.2" y2="389.22" stroke="#000" stroke-width="1.4"/>
<line x1="620.2" y1="321.6" x2="620.2" y2="324.1" stroke="#000" stroke-width="1.4"/>
<line x1="671.2" y1="366.68" x2="676.2" y2="366.68" stroke="#000" stroke-width="1.4"/>
<line x1="648.2" y1="321.6" x2="648.2" y2="324.1" stroke="#000" stroke-width="1.4"/>
<line x1="673.2" y1="344.14" x2="676.2" y2="344.14" stroke="#000" stroke-width="1.4"/>
<rect x="396.2" y="321.6" width="280" height="225.4" fill="none" stroke="#000" stroke-width="2"/>
<polyline points="396.2,321.6 489.53,519.05 536.2,547 582.87,547 676.2,547" fill="none" stroke="#ff0000" stroke-width="1.4"/>
<polyline points="396.2,321.6 489.53,497.19 536.2,527.91 582.87,547 676.2,547" fill="none" stroke="#0000ff" stroke-width="1.4"/>
<polyline points="396.2,321.6 489.53,475.1 536.2,512.06 582.87,547 676.2,547" fill="none" stroke="#ffff00" stroke-width="1.4"/>
<polyline points="396.2,321.6 489.53,447.82 536.2,490.88 582.87,531.11 676.2,547" fill="none" stroke="#00ff00" stroke-width="1.4"/>
<polyline points="396.2,321.6 489.53,423.48 536.2,468.34 582.87,514.2 676.2,547" fill="none" stroke="#000000" stroke-width="1.4"/>
<line x1="536.2" y1="547" x2="676.2" y2="547" stroke="#000" stroke-width="2" stroke-opacity="0.55"/>
<rect x="393.4" y="318.8" width="5.6" height="5.6" fill="#ff0000"/>
<rect x="486.73" y="516.25" width="5.6" height="5.6" fill="#ff0000"/>
<rect x="533.4" y="544.2" width="5.6" height="5.6" fill="#ff0000"/>
<rect x="580.07" y="544.2" width="5.6" height="5.6" fill="#ff0000"/>
<rect x="673.4" y="544.2" width="5.6" height="5.6" fill="#ff0000"/>
<circle cx="396.2" cy="321.6" r="2.94" fill="#0000ff"/>
<circle cx="489.53" cy="497.19" r="2.94" fill="#0000ff"/>
<circle cx="536.2" cy="527.91" r="2.94" fill="#0000ff"/>
<circle cx="582.87" cy="547" r="2.94" fill="#0000ff"/>
<circle cx="676.2" cy="547" r="2.94" fill="#0000ff"/>
<polygon points="396.2,317.9 399.9,324.37 392.5,324.37" fill="#ffff00"/>
<polygon points="489.53,471.4 493.23,477.87 485.84,477.87" fill="#ffff00"/>
<polygon points="536.2,508.37 539.9,514.84 532.5,514.84" fill="#ffff00"/>
<polygon points="582.87,543.3 586.56,549.77 579.17,549.77" fill="#ffff00"/>
<polygon points="676.2,543.3 679.9,549.77 672.5,549.77" fill="#ffff00"/>
<polygon points="396.2,325.3 399.9,318.83 392.5,318.83" fill="#00ff00"/>
<polygon points="489.53,451.52 493.23,445.05 485.84,445.05" fill="#00ff00"/>
<polygon points="536.2,494.57 539.9,488.1 532.5,488.1" fill="#00ff00"/>
<polygon points="582.87,534.81 586.56,528.34 579.17,528.34" fill="#00ff00"/>
<polygon points="676.2,550.7 679.9,544.23 672.5,544.23" fill="#00ff00"/>
<polygon points="396.2,317.79 400.01,321.6 396.2,325.41 392.39,321.6" fill="#000000"/>
<polygon points="489.53,419.67 493.34,423.48 489.53,427.29 485.73,423.48" fill="#000000"/>
<polygon points="536.2,464.53 540.01,468.34 536.2,472.14 532.39,468.34" fill="#000000"/>
<polygon points="582.87,510.4 586.67,514.2 582.87,518.01 579.06,514.2" fill="#000000"/>
<polygon points="676.2,543.19 680.01,547 676.2,550.81 672.39,547" fill="#000000"/>
<rect x="529.4" y="333.4" width="52.5" height="74" fill="#fff" stroke="#5a5a5a" stroke-width="1"/>
<line x1="531.3" y1="340.6" x2="557.3" y2="340.6" stroke="#ff0000" stroke-width="1.4"/>
<rect x="541.1" y="337.8" width="5.6" height="5.6" fill="#ff0000"/>
<text x="559.8" y="344.7" font-size="11.5" text-anchor="start" font-weight="normal" style="font-family:&quot;Liberation Sans&quot;,sans-serif">70</text>
<line x1="531.3" y1="355.15" x2="557.3" y2="355.15" stroke="#0000ff" stroke-width="1.4"/>
<circle cx="543.9" cy="355.15" r="2.94" fill="#0000ff"/>
<text x="559.8" y="359.25" font-size="11.5" text-anchor="start" font-weight="normal" style="font-family:&quot;Liberation Sans&quot;,sans-serif">80</text>
<line x1="531.3" y1="369.7" x2="557.3" y2="369.7" stroke="#ffff00" stroke-width="1.4"/>
<polygon points="543.9,366 547.6,372.47 540.2,372.47" fill="#ffff00"/>
<text x="559.8" y="373.8" font-size="11.5" text-anchor="start" font-weight="normal" style="font-family:&quot;Liberation Sans&quot;,sans-serif">90</text>
<line x1="531.3" y1="384.25" x2="557.3" y2="384.25" stroke="#00ff00" stroke-width="1.4"/>
<polygon points="543.9,387.95 547.6,381.48 540.2,381.48" fill="#00ff00"/>
<text x="559.8" y="388.35" font-size="11.5" text-anchor="start" font-weight="normal" style="font-family:&quot;Liberation Sans&quot;,sans-serif">100</text>
<line x1="531.3" y1="398.8" x2="557.3" y2="398.8" stroke="#000000" stroke-width="1.4"/>
<polygon points="543.9,394.99 547.71,398.8 543.9,402.61 540.09,398.8" fill="#000000"/>
<text x="559.8" y="402.9" font-size="11.5" text-anchor="start" font-weight="normal" style="font-family:&quot;Liberation Sans&quot;,sans-serif">120</text>
<text transform="translate(519,315.7) scale(0.93,1)" font-size="18" text-anchor="middle" style="font-family:&quot;Liberation Sans&quot;,sans-serif">d</text>
<text transform="translate(366.4,448.6) rotate(-90)" x="0" y="0" font-size="14.4" font-weight="bold" textLength="30.5" lengthAdjust="spacingAndGlyphs" style="font-family:&quot;Liberation Serif&quot;,serif">C/C<tspan font-size="12" dy="3">0</tspan></text>
<text x="501.3" y="582.8" font-size="13.2" font-weight="bold" textLength="69.2" lengthAdjust="spacing" style="font-family:&quot;Liberation Serif&quot;,serif">Time ( min)</text>
</svg></body></html>
